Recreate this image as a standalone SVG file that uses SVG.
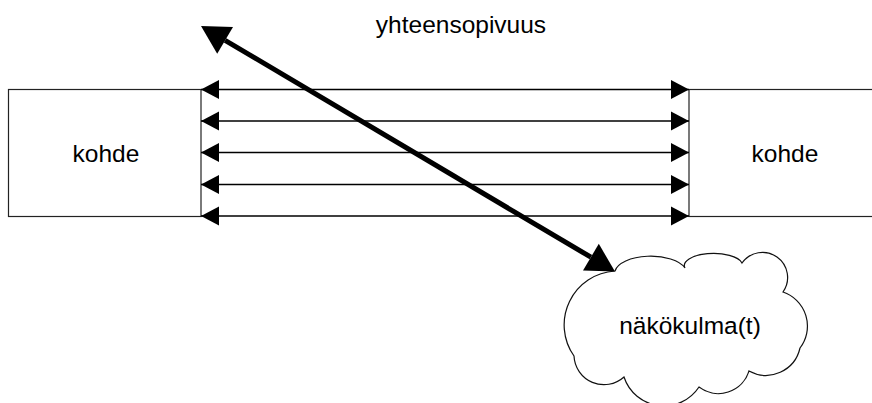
<svg xmlns="http://www.w3.org/2000/svg" width="872" height="403" viewBox="0 0 872 403">
<style>
.box{fill:#fff;stroke:#222;stroke-width:1.2}
.lbl{font-family:"Liberation Sans",Arial,sans-serif;font-size:24.5px;fill:#000;text-anchor:middle}
.thin{stroke:#000;stroke-width:1.4;fill:none}
.thick{stroke:#000;stroke-width:5;fill:none}
.cloud{fill:#fff;stroke:#111;stroke-width:1.2}
</style>
<defs>
<marker id="ah" markerUnits="userSpaceOnUse" markerWidth="19" markerHeight="20" refX="18" refY="9.5" orient="auto-start-reverse" overflow="visible">
<path d="M0,0 L18,9.5 L0,19 z" fill="#000"/>
</marker>
<marker id="bh" markerUnits="userSpaceOnUse" markerWidth="29" markerHeight="32" refX="0" refY="15.5" orient="auto-start-reverse" overflow="visible">
<path d="M0,0 L28,15.5 L0,31 z" fill="#000"/>
</marker>
</defs>
<g id="kohde-left">
<rect class="box" x="8.5" y="89.5" width="192.5" height="127"/>
<text class="lbl" x="106" y="161.5">kohde</text>
</g>
<g id="kohde-right">
<rect class="box" x="689" y="89.5" width="200" height="127"/>
<text class="lbl" x="785" y="161.5">kohde</text>
</g>
<g id="nakokulma">
<path class="cloud" d="M615,271 A36,17 0 0 1 685,268 A29,12 0 0 1 742,263 A24,24 0 0 1 783,292 A36,36 0 0 1 800,348 A35,35 0 0 1 749,371 A32,32 0 0 1 699,387 A42,42 0 0 1 624,377 A30,30 0 0 1 574,356 A54,54 0 0 1 615,271 Z"/>
<text class="lbl" x="690" y="334">näkökulma(t)</text>
</g>
<g id="yhteensopivuus">
<text class="lbl" x="461" y="33">yhteensopivuus</text>
</g>
<g id="connectors">
<line class="thin" x1="201" y1="89.5" x2="689" y2="89.5" marker-start="url(#ah)" marker-end="url(#ah)"/>
<line class="thin" x1="201" y1="121" x2="689" y2="121" marker-start="url(#ah)" marker-end="url(#ah)"/>
<line class="thin" x1="201" y1="152.5" x2="689" y2="152.5" marker-start="url(#ah)" marker-end="url(#ah)"/>
<line class="thin" x1="201" y1="184.5" x2="689" y2="184.5" marker-start="url(#ah)" marker-end="url(#ah)"/>
<line class="thin" x1="201" y1="216" x2="689" y2="216" marker-start="url(#ah)" marker-end="url(#ah)"/>
<line class="thick" x1="225.1" y1="40.3" x2="590.9" y2="257.2" marker-start="url(#bh)" marker-end="url(#bh)"/>
</g>
</svg>
